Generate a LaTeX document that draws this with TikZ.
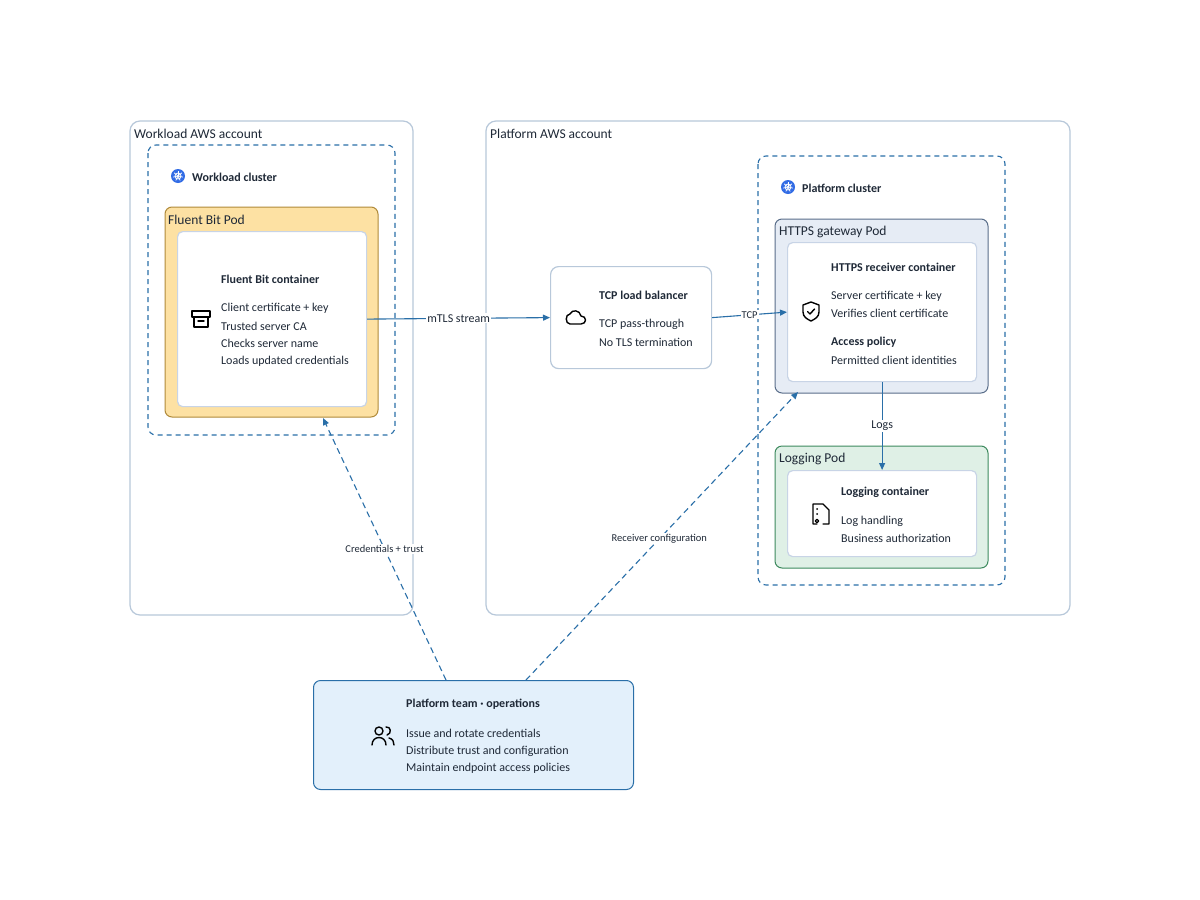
\documentclass[tikz,border=0pt]{standalone}
\usepackage{fontspec}
\setmainfont{Carlito}
\usetikzlibrary{arrows.meta}
\definecolor{ln}{HTML}{2A6FA8}
\definecolor{acc}{HTML}{B8C8DA}
\definecolor{txt}{HTML}{1F2937}
\definecolor{inb}{HTML}{C8D4E6}
\definecolor{fbfill}{HTML}{FDE1A3}
\definecolor{fbline}{HTML}{B08A3A}
\definecolor{gwfill}{HTML}{E6ECF5}
\definecolor{gwline}{HTML}{5A6E8A}
\definecolor{lgfill}{HTML}{DFF0E6}
\definecolor{lgline}{HTML}{3D8A5E}
\definecolor{tmfill}{HTML}{E3F0FB}
\definecolor{kb}{HTML}{326CE5}
\tikzset{
  box/.style={draw, rounded corners=7pt, line width=1pt},
  account/.style={box, draw=acc, line width=1.2pt, rounded corners=10pt},
  cluster/.style={draw=ln, dash pattern=on 5pt off 4pt, line width=1.1pt, rounded corners=8pt},
  inner/.style={draw=inb, fill=white, line width=1.2pt, rounded corners=5pt},
  t/.style={anchor=west, text=txt, font=\fontsize{12}{14}\selectfont, inner sep=0pt},
  tb/.style={t, font=\fontsize{12}{14}\selectfont\bfseries},
  big/.style={anchor=west, text=txt, font=\fontsize{13.5}{16}\selectfont, inner sep=0pt},
  arr/.style={draw=ln, line width=1.1pt, -{Triangle[length=7pt,width=6pt]}},
  darr/.style={arr, dash pattern=on 6pt off 4pt},
  lab/.style={fill=white, text=txt, font=\fontsize{12}{14}\selectfont, inner sep=1pt},
  slab/.style={fill=white, text=txt, font=\fontsize{10.5}{12}\selectfont, inner sep=1pt},
  ic/.style={draw=black, line width=1.4pt, line cap=round, line join=round},
}
\newcommand{\kube}[1]{%
  \fill[kb] #1 circle (7pt);
  \draw[white, line width=0.8pt] #1 circle (3pt);
  \foreach \a in {90,141,193,244,296,347,39}{\draw[white,line width=0.7pt] #1 -- ++(\a:5pt);}
}
\begin{document}
\begin{tikzpicture}[x=1pt,y=-1pt]
\useasboundingbox (0,0) rectangle (1200,900);
\fill[white] (0,0) rectangle (1200,900);
% accounts
\draw[account] (130,121) rectangle (413,615);
\node[big] (wal) at (134,134) {Workload AWS account};
\draw[account] (486,121) rectangle (1070,615);
\node[big] (pal) at (490,134) {Platform AWS account};
% clusters
\draw[cluster] (148,145) rectangle (395,435);
\kube{(178,176)}
\node[tb] (wcl) at (192,177) {Workload cluster};
\draw[cluster] (758,156) rectangle (1005,585);
\kube{(788,187)}
\node[tb] (pcl) at (802,188) {Platform cluster};
% fluent bit pod
\draw[box, draw=fbline, fill=fbfill] (165,207) rectangle (378,417);
\node[big] (fbp) at (168,220) {Fluent Bit Pod};
\node[inner, minimum width=189pt, minimum height=175pt, anchor=north west] (fbc) at (177,231) {};
\node[tb] at (221,279) {Fluent Bit container};
\node[t] at (221,308) {Client certificate + key};
\node[t] at (221,326) {Trusted server CA};
\node[t] at (221,343) {Checks server name};
\node[t] at (221,361) {Loads updated credentials};
\draw[ic] (192,311) rectangle (210,317);
\draw[ic] (194,317) -- (194,327) -- (208,327) -- (208,317);
\draw[ic] (198,321) -- (204,321);
% load balancer
\node[inner, draw=acc, minimum width=161pt, minimum height=102pt, anchor=north west, rounded corners=8pt] (lb) at (550,266) {};
\node[tb] at (599,295) {TCP load balancer};
\node[t] at (599,324) {TCP pass-through};
\node[t] at (599,342) {No TLS termination};
\draw[ic] (570,324) -- (581,324) .. controls (587,324) and (587,316) .. (581,316) .. controls (580,310) and (572,309) .. (570,314) .. controls (565,314) and (565,324) .. (570,324);
% gateway pod
\draw[box, draw=gwline, fill=gwfill] (775,219) rectangle (988,393);
\node[big] (gwp) at (779,232) {HTTPS gateway Pod};
\node[inner, minimum width=189pt, minimum height=139pt, anchor=north west] (gwc) at (787,242) {};
\node[tb] at (831,267) {HTTPS receiver container};
\node[t] at (831,296) {Server certificate + key};
\node[t] at (831,313) {Verifies client certificate};
\node[tb] at (831,342) {Access policy};
\node[t] at (831,360) {Permitted client identities};
\draw[ic] (811,302) -- (819,305) -- (819,312) .. controls (819,317) and (815,319) .. (811,321) .. controls (807,319) and (803,317) .. (803,312) -- (803,305) -- cycle;
\draw[ic] (807.5,311.5) -- (810,314) -- (814.5,309);
% logging pod
\draw[box, draw=lgline, fill=lgfill] (775,446) rectangle (988,568);
\node[big] (lgp) at (779,459) {Logging Pod};
\node[inner, minimum width=189pt, minimum height=86pt, anchor=north west] (lgc) at (787,470) {};
\node[tb] at (841,492) {Logging container};
\node[t] at (841,521) {Log handling};
\node[t] at (841,538) {Business authorization};
\draw[ic] (817,524) -- (813,524) -- (813,504) -- (823,504) -- (829,510) -- (829,524) -- (823,524);
\fill (817,509) circle (1pt) (817,514) circle (1pt);
\draw[ic, line width=1.2pt] (817,521) circle (1.8pt);
% team
\node[box, draw=ln, fill=tmfill, minimum width=320pt, minimum height=109pt, anchor=north west] (team) at (313,680) {};
\node[tb] at (406,704) {Platform team · operations};
\node[t] at (406,733) {Issue and rotate credentials};
\node[t] at (406,751) {Distribute trust and configuration};
\node[t] at (406,768) {Maintain endpoint access policies};
\draw[ic] (379,731) circle (4pt);
\draw[ic] (372,745) .. controls (372,735) and (386,735) .. (386,745);
\draw[ic] (386,727) .. controls (391,726) and (392,734) .. (387,735);
\draw[ic] (389,738) .. controls (393,739) and (394,742) .. (394,745);
% connectors
\draw[arr] (fbc.east) -- node[lab] {mTLS stream} (lb.west);
\draw[arr] (lb.east) -- node[slab] {TCP} (gwc.west);
\draw[arr] (gwc.south) -- node[lab] {Logs} (gwc.south |- lgc.north);
\coordinate (c1s) at (446,680);
\coordinate (c1e) at (323,418);
\coordinate (c2s) at (526,680);
\coordinate (c2e) at (798,392);
\draw[darr] (c1s) -- node[slab, pos=0.5] {Credentials + trust} (c1e);
\draw[darr] (c2s) -- node[slab, pos=0.49] {Receiver configuration} (c2e);
\end{tikzpicture}
\end{document}
